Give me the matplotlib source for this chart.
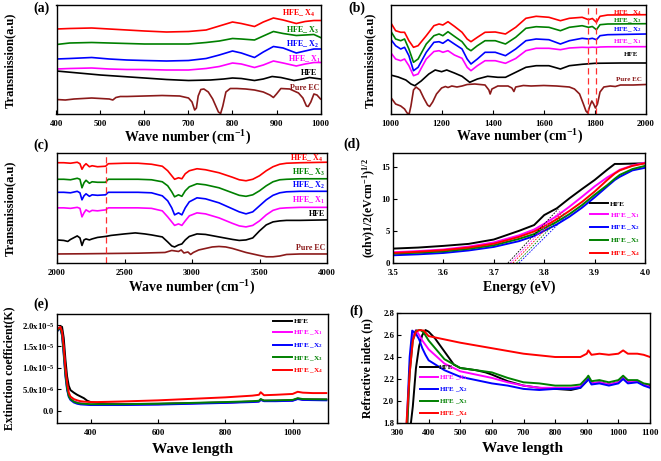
import matplotlib
matplotlib.use("Agg")
import matplotlib.pyplot as plt

plt.rcParams['font.family'] = ['Liberation Serif', 'DejaVu Serif']
plt.rcParams['font.weight'] = 'bold'
plt.rcParams['mathtext.fontset'] = 'custom'
plt.rcParams['mathtext.rm'] = 'Liberation Serif:bold'
plt.rcParams['mathtext.bf'] = 'Liberation Serif:bold'
plt.rcParams['mathtext.it'] = 'Liberation Serif:italic:bold'
plt.rcParams['axes.linewidth'] = 1.0

# ---------------- colours / names ----------------
names = ["HFE", "HFE_X1", "HFE_X2", "HFE_X3", "HFE_X4", "Pure EC"]
colors = ["black", "#ff00ff", "#0000ff", "#008000", "#ff0000", "#8b1a1a"]

# ---------------- panel (a) FTIR 400-1000 (arbitrary offsets) ----------------
a_ec_x = [400, 420, 440, 460, 480, 500, 520, 528, 535, 545, 560, 600, 640, 680, 700, 708, 714, 718, 722, 728,
          735, 745, 755, 762, 768, 773, 778, 785, 795, 810, 830, 850, 870, 885, 893, 900, 910, 930, 950, 960,
          968, 972, 978, 985, 992, 1000]
a_ec_y = [14.5, 14, 15, 15.5, 16, 15.5, 15, 14, 16.5, 17.5, 17.5, 18, 18.5, 18, 16, 12, 4, 6, 18, 24.5,
          25, 22, 15, 8, 2, 0.5, 8, 22, 25.5, 25.5, 25, 24, 22, 19, 16.5, 20, 25.5, 25, 21, 16,
          8, 7.5, 12, 20, 19, 15]
a_hfe_x = [400, 450, 500, 550, 600, 650, 700, 750, 780, 800, 820, 850, 870, 890, 910, 940, 960, 975, 1000]
a_hfe_y = [43, 41, 39, 37.5, 36, 34.5, 33.5, 34, 35, 36, 35.5, 33.5, 35, 37.5, 36.5, 33.5, 35, 36.5, 35]
a_s_x = [400, 430, 480, 520, 560, 600, 650, 700, 740, 770, 800, 820, 850, 870, 893, 915, 945, 965, 985, 1000]
a_x1_y = [45, 45.5, 46, 45, 44.5, 44.5, 44, 44, 45.5, 47.5, 51, 50, 46.5, 49, 53, 51, 48, 50, 51.5, 51.5]
a_x2_y = [55, 55.5, 56.5, 55, 54, 53.5, 53, 53.5, 55.5, 59, 63, 61, 56.5, 62, 67.5, 66, 61, 63, 65, 65]
a_x3_y = [69.5, 71, 71.5, 71, 70.5, 70, 70, 70, 71.5, 73, 75.5, 75, 74, 78, 82.5, 80.5, 78.5, 79, 79.5, 76.5]
a_x4_y = [85, 85.5, 86, 85, 84, 83, 82, 82.5, 84, 88, 92, 90.5, 87.5, 92, 96, 94, 90.5, 92.5, 93.5, 93.5]

# ---------------- panel (b) FTIR 1000-2000 ----------------
b_ec_x = [1000, 1020, 1040, 1055, 1065, 1073, 1080, 1090, 1100, 1115, 1130, 1145, 1153, 1165, 1180, 1200, 1215,
          1225, 1240, 1260, 1280, 1300, 1330, 1370, 1385, 1390, 1397, 1420, 1460, 1475, 1483, 1490, 1520, 1550,
          1600, 1650, 1700, 1720, 1740, 1755, 1765, 1772, 1780, 1788, 1795, 1802, 1810, 1820, 1835, 1860, 1880,
          1900, 1950, 2000]
b_ec_y = [17, 10, 8, 5, 1, 0, 8, 24, 27, 24, 16, 9, 7.5, 12, 20, 26, 27.5,
          26.5, 28, 27, 28, 29.5, 30, 29, 24, 20, 25, 28, 28, 26, 22.5, 27, 28.5, 28,
          28.5, 28, 27, 25, 20, 10, 3, 1, 8, 13, 10, 6, 10, 22, 27, 28, 27.5,
          29, 29, 29.5]
b_hfe_x = [1000, 1030, 1060, 1080, 1095, 1120, 1150, 1175, 1200, 1220, 1250, 1280, 1310, 1340, 1380, 1420, 1450,
           1490, 1530, 1570, 1620, 1665, 1700, 1750, 1800, 1900, 2000]
b_hfe_y = [39, 37, 34, 30, 28.3, 33, 40, 44, 42.3, 44, 41, 37.7, 31.7, 35, 37.7, 36.7, 36.7,
           41.7, 46.7, 48.3, 48.3, 45, 48.3, 49.7, 50.7, 51, 51]
b_s_x = [1000, 1020, 1040, 1055, 1072, 1090, 1108, 1140, 1170, 1190, 1205, 1225, 1250, 1280, 1300, 1315, 1340,
         1370, 1410, 1450, 1490, 1530, 1570, 1620, 1665, 1700, 1750, 1775, 1790, 1806, 1820, 1850, 2000]
b_x1_y = [61.7, 55, 53.3, 55, 48.3, 38.3, 40, 55, 62.5, 63.3, 61.7, 63.3, 59, 55.7, 46.7, 43.3, 48.3,
          53.3, 53.3, 50.7, 55.5, 63.3, 65.7, 65.7, 64.3, 66, 66.7, 66.5, 66.8, 66.6, 67, 67.2, 67.3]
b_x2_y = [75, 68.3, 65, 66.7, 58.3, 43.3, 46.7, 61.7, 71.7, 72.3, 70.7, 74.3, 70, 65, 55, 50, 55,
          61.7, 61.7, 58.3, 65, 73.3, 75, 74.3, 70, 73.3, 75.7, 75, 75.7, 74.3, 78.3, 79.3, 80]
b_x3_y = [83.3, 75, 73.3, 75, 65, 51.7, 55, 70, 78.3, 80, 78.3, 82.3, 77.7, 72.3, 65.7, 63.3, 68.3,
          73.3, 73.3, 70, 76.7, 85.7, 87.3, 86.7, 83.3, 86.7, 88.3, 86.7, 87.5, 84.3, 89.3, 90, 90.3]
b_x4_y = [91.7, 83.3, 81.7, 81.7, 73.3, 66.7, 68.3, 78.3, 88.3, 90, 89, 92.3, 87.7, 81.7, 75, 72.3, 76.7,
          81.7, 82, 80, 86.7, 95.7, 97.7, 96.7, 93.3, 95.7, 96.7, 94.3, 95.5, 91.7, 97.7, 99, 99.3]
b_dash_x = [1773, 1806]

# ---------------- panel (c) FTIR 2000-4000 ----------------
c_s_x = [2000, 2050, 2100, 2150, 2170, 2185, 2200, 2215, 2240, 2260, 2300, 2360, 2380, 2500, 2600, 2700, 2780,
         2820, 2850, 2871, 2900, 2925, 2950, 2980, 3037, 3100, 3200, 3300, 3350, 3400, 3450, 3500, 3550, 3600,
         3650, 3700, 3800, 4000]
c_x4_y = [92, 92, 91.5, 92.5, 91, 85.5, 89, 91, 88, 89, 88, 88.5, 91, 91.5, 91.5, 90.5, 88.5,
          84, 79, 75.5, 77, 76, 81, 84, 86, 85, 82, 77.5, 75, 74, 75.5, 79, 84, 88,
          90.5, 91.5, 92, 92.5]
c_x3_y = [75.5, 75.5, 75, 76.5, 75.5, 67, 72, 74.5, 71.5, 73, 72.5, 72.5, 75.5, 75.5, 75.5, 75, 73,
          69, 63, 58, 60, 58.5, 64, 68, 71, 70, 67, 62, 59.5, 58.5, 60, 64, 69, 73,
          75, 75.5, 76, 76]
c_x2_y = [62.5, 62.5, 62, 63.5, 62, 55, 59, 61, 58.5, 60, 59.5, 60, 62.5, 62.5, 62.5, 62, 59,
          54, 47, 40, 42, 40, 47, 53, 57, 56, 52, 46, 43, 41, 43, 49, 55, 59.5,
          62, 63, 63.5, 63.5]
c_x1_y = [47, 47, 46.5, 47.5, 46.5, 38, 42, 45, 43, 44.5, 44, 45, 47, 47, 47, 46.5, 44,
          38, 33, 29.5, 31, 29.5, 34, 39, 42, 41, 37, 31.5, 29, 28, 29.5, 34, 40, 44.5,
          46.5, 47, 47.5, 47.5]
c_hfe_x = [2000, 2050, 2080, 2100, 2150, 2170, 2185, 2200, 2215, 2240, 2260, 2300, 2360, 2400, 2500, 2580, 2650,
           2700, 2780, 2820, 2850, 2871, 2900, 2925, 2950, 2980, 3037, 3100, 3200, 3300, 3350, 3400, 3450, 3500,
           3550, 3600, 3650, 3700, 3800, 4000]
c_hfe_y = [15, 14.5, 13.5, 15.5, 19, 17, 9.5, 15, 16, 15, 16, 17.5, 18.5, 19.5, 21, 22, 21,
           20, 18, 13, 9, 8, 10, 11, 15, 18.5, 21, 20.5, 18, 15.5, 14.5, 15, 17, 24,
           30, 33, 34, 34.5, 34.5, 35]
c_ec_x = [2000, 2200, 2400, 2600, 2800, 2850, 2900, 2920, 2940, 2970, 2990, 3010, 3050, 3100, 3150, 3200, 3250,
          3300, 3400, 3500, 3550, 3600, 3650, 3700, 3800, 4000]
c_ec_y = [1, 1.2, 1.5, 1.8, 2.5, 4.5, 3.5, 5, 2, 3, 0.5, 2.5, 5, 6.5, 8, 8.5, 8,
          6.5, 2.5, -0.5, -1.8, -1.8, -1, 0.5, 1, 1]
c_dash_x = 2362

# ---------------- panel (d) Tauc plot ----------------
d_x = [3.50, 3.55, 3.60, 3.65, 3.70, 3.75, 3.78, 3.80, 3.825, 3.85, 3.875, 3.90, 3.925, 3.94, 3.95, 3.975, 4.00]
d_hfe = [2.24, 2.4, 2.66, 2.97, 3.65, 5.0, 5.9, 7.45, 8.5, 10.05, 11.5, 12.9, 14.5, 15.4, 15.4, 15.45, 15.5]
d_x1 = [1.67, 1.85, 2.1, 2.55, 3.2, 4.3, 5.2, 6.1, 7.3, 8.75, 10.3, 11.9, 13.3, 14.0, 14.5, 15.15, 15.6]
d_x2 = [1.2, 1.35, 1.56, 1.95, 2.5, 3.4, 4.2, 5.0, 6.0, 7.2, 8.6, 10.2, 11.9, 12.9, 13.4, 14.4, 14.8]
d_x3 = [1.46, 1.6, 1.8, 2.2, 2.76, 3.75, 4.5, 5.4, 6.4, 7.6, 9.0, 10.6, 12.1, 13.1, 13.7, 14.6, 15.1]
d_x4 = [1.56, 1.75, 2.0, 2.4, 3.0, 4.06, 4.9, 5.7, 6.8, 8.1, 9.5, 11.1, 12.9, 13.9, 14.4, 15.1, 15.5]
d_tan_x0 = [3.728, 3.733, 3.750, 3.745, 3.738]
d_tan_x1 = [3.828, 3.832, 3.845, 3.840, 3.836]
d_tan_y1 = [8.4, 8.1, 7.4, 7.7, 7.9]

# ---------------- panel (e) extinction coefficient (x1e-6) ----------------
e_x = [300, 305, 310, 315, 320, 325, 330, 335, 340, 350, 360, 370, 380, 390, 400, 420, 450, 500, 600, 700, 800,
       880, 900, 905, 915, 950, 1000, 1015, 1030, 1060, 1100]
e_hfe = [18.5, 19, 19.3, 19.6, 17, 12, 8, 5.8, 4.8, 4.2, 3.7, 3.3, 2.9, 2.3, 2.0, 1.8, 1.6, 1.55, 1.6, 1.75, 1.9,
         2.1, 2.2, 2.6, 2.3, 2.3, 2.4, 2.8, 2.6, 2.6, 2.6]
e_x1 = [18.8, 19.1, 19.3, 18, 14, 9, 5.5, 3.6, 2.8, 2.2, 1.9, 1.7, 1.6, 1.5, 1.4, 1.4, 1.4, 1.45, 1.5, 1.7, 1.9,
        2.1, 2.2, 2.6, 2.3, 2.3, 2.4, 2.8, 2.6, 2.55, 2.5]
e_x2 = [18.6, 19.0, 19.2, 17.5, 13, 8, 4.8, 3.2, 2.5, 1.9, 1.6, 1.45, 1.4, 1.35, 1.3, 1.3, 1.3, 1.3, 1.4, 1.6, 1.8,
        2.0, 2.1, 2.5, 2.2, 2.2, 2.3, 2.7, 2.5, 2.45, 2.4]
e_x3 = [18.7, 19.1, 19.3, 17.8, 13.5, 8.5, 5.2, 3.4, 2.7, 2.1, 1.8, 1.65, 1.6, 1.55, 1.5, 1.5, 1.5, 1.5, 1.6, 1.8, 2.0,
        2.2, 2.3, 2.7, 2.35, 2.4, 2.5, 2.9, 2.7, 2.65, 2.6]
e_x4 = [18.9, 19.3, 19.6, 18.5, 15, 10, 6.5, 4.2, 3.3, 2.7, 2.4, 2.2, 2.1, 2.05, 2.0, 2.0, 2.05, 2.15, 2.4, 2.75, 3.1,
        3.5, 3.7, 4.3, 3.6, 3.7, 3.9, 4.4, 4.2, 4.1, 4.1]

# ---------------- panel (f) refractive index ----------------
f_hfe_x = [344, 350, 360, 370, 380, 390, 400, 420, 450, 480, 500, 550, 580, 600, 650, 700, 750, 800, 850, 880,
           900, 905, 915, 940, 970, 1000, 1015, 1030, 1060, 1080, 1100]
f_hfe_y = [1.80, 1.95, 2.30, 2.50, 2.60, 2.645, 2.63, 2.57, 2.45, 2.33, 2.30, 2.28, 2.26, 2.24, 2.18, 2.14, 2.12,
           2.11, 2.10, 2.12, 2.18, 2.21, 2.16, 2.17, 2.15, 2.17, 2.21, 2.18, 2.18, 2.15, 2.14]
f_s_x = [331, 340, 348, 360, 370, 380, 390, 400, 450, 500, 550, 600, 650, 700, 750, 800, 850, 880,
         900, 905, 915, 940, 970, 1000, 1015, 1030, 1060, 1080, 1100]
f_x2_y = [1.80, 2.40, 2.64, 2.61, 2.56, 2.48, 2.42, 2.37, 2.28, 2.22, 2.19, 2.16, 2.14, 2.11, 2.10, 2.11, 2.11, 2.12,
          2.18, 2.20, 2.15, 2.16, 2.14, 2.16, 2.20, 2.16, 2.17, 2.14, 2.12]
f_x1_x = [333, 340, 350, 360, 370, 380, 400, 450, 500, 550, 600, 650, 700, 750, 800, 850, 880,
          900, 905, 915, 940, 970, 1000, 1015, 1030, 1060, 1080, 1100]
f_x1_y = [1.80, 2.30, 2.60, 2.645, 2.60, 2.55, 2.47, 2.34, 2.27, 2.24, 2.21, 2.17, 2.14, 2.12, 2.12, 2.12, 2.13,
          2.19, 2.21, 2.16, 2.17, 2.15, 2.17, 2.21, 2.17, 2.18, 2.15, 2.13]
f_x3_x = [333, 340, 350, 360, 375, 385, 400, 450, 500, 550, 600, 650, 700, 750, 800, 850, 880,
          900, 905, 915, 940, 970, 1000, 1015, 1030, 1060, 1080, 1100]
f_x3_y = [1.80, 2.25, 2.55, 2.64, 2.645, 2.62, 2.55, 2.38, 2.30, 2.28, 2.26, 2.21, 2.17, 2.16, 2.14, 2.14, 2.15,
          2.21, 2.23, 2.18, 2.19, 2.17, 2.19, 2.23, 2.19, 2.19, 2.16, 2.15]
f_x4_x = [330, 340, 350, 360, 370, 385, 400, 450, 500, 600, 700, 800, 880, 900, 905, 915, 940, 970, 1000, 1015,
          1030, 1060, 1080, 1100]
f_x4_y = [1.80, 2.25, 2.55, 2.63, 2.645, 2.64, 2.59, 2.56, 2.53, 2.48, 2.43, 2.40, 2.40, 2.43, 2.46, 2.42, 2.43,
          2.42, 2.43, 2.46, 2.43, 2.43, 2.42, 2.40]

# ---------------- figure ----------------
W, H = 661, 461
fig = plt.figure(figsize=(W / 100, H / 100), dpi=100)


def add_ax(l, r, t, b):
    return fig.add_axes([l / W, 1 - b / H, (r - l) / W, (b - t) / H])


def ftxt(x, y, s, **kw):
    fig.text(x / W, 1 - y / H, s, **kw)


LW = 1.2
tick_kw = dict(direction='in', labelsize=6.3, width=0.8, length=3)


def style_ticks(ax):
    ax.tick_params(axis='x', pad=4, **tick_kw)
    ax.tick_params(axis='y', pad=2, **tick_kw)


# (a)
ax = add_ax(56.5, 320.5, 5, 114)
ax.plot(a_ec_x, a_ec_y, color=colors[5], lw=LW)
ax.plot(a_hfe_x, a_hfe_y, color=colors[0], lw=LW)
ax.plot(a_s_x, a_x1_y, color=colors[1], lw=LW)
ax.plot(a_s_x, a_x2_y, color=colors[2], lw=LW)
ax.plot(a_s_x, a_x3_y, color=colors[3], lw=LW)
ax.plot(a_s_x, a_x4_y, color=colors[4], lw=LW)
ax.set_xlim(400, 1000)
ax.set_ylim(0, 109)
ax.set_xticks([400, 500, 600, 700, 800, 900, 1000])
ax.set_yticks([])
style_ticks(ax)
fs = 5.8
ftxt(315, 13, r"HFE_ X$_4$", color=colors[4], fontsize=fs, ha='right', va='center')
ftxt(319, 30, r"HFE_ X$_3$", color=colors[3], fontsize=fs, ha='right', va='center')
ftxt(319, 44, r"HFE_ X$_2$", color=colors[2], fontsize=fs, ha='right', va='center')
ftxt(321, 59, r"HFE_ X$_1$", color=colors[1], fontsize=fs, ha='right', va='center')
ftxt(317, 73, "HFE", color=colors[0], fontsize=fs, ha='right', va='center')
ftxt(319, 88, "Pure EC", color=colors[5], fontsize=fs, ha='right', va='center')
ftxt(41, 8, "(a)", fontsize=10, ha='center', va='center')
ftxt(10, 60, "Transmission(a.u)", fontsize=9, rotation=90, ha='center', va='center')
ftxt(188, 138, r"Wave number (cm$^{-1}$)", fontsize=10, ha='center', va='center')

# (b)
ax = add_ax(390.5, 646, 5, 114)
ax.plot(b_ec_x, b_ec_y, color=colors[5], lw=LW)
ax.plot(b_hfe_x, b_hfe_y, color=colors[0], lw=LW)
ax.plot(b_s_x, b_x1_y, color=colors[1], lw=LW)
ax.plot(b_s_x, b_x2_y, color=colors[2], lw=LW)
ax.plot(b_s_x, b_x3_y, color=colors[3], lw=LW)
ax.plot(b_s_x, b_x4_y, color=colors[4], lw=LW)
for xd in b_dash_x:
    ax.axvline(xd, color='#ff3030', ls=(0, (5, 3)), lw=0.9)
ax.set_xlim(1000, 2000)
ax.set_ylim(0, 109)
ax.set_xticks([1000, 1200, 1400, 1600, 1800, 2000])
ax.set_yticks([])
style_ticks(ax)
fs = 5.0
ftxt(642, 13, r"HFE_ X$_4$", color=colors[4], fontsize=fs, ha='right', va='center')
ftxt(642, 21, r"HFE_ X$_3$", color=colors[3], fontsize=fs, ha='right', va='center')
ftxt(642, 30, r"HFE_ X$_2$", color=colors[2], fontsize=fs, ha='right', va='center')
ftxt(642, 42, r"HFE_ X$_1$", color=colors[1], fontsize=fs, ha='right', va='center')
ftxt(638, 55, "HFE", color=colors[0], fontsize=fs, ha='right', va='center')
ftxt(642, 79, "Pure EC", color=colors[5], fontsize=fs, ha='right', va='center')
ftxt(357, 8, "(b)", fontsize=10, ha='center', va='center')
ftxt(370, 60, "Transmission(a.u)", fontsize=9, rotation=90, ha='center', va='center')
ftxt(520, 137, r"Wave number (cm$^{-1}$)", fontsize=10, ha='center', va='center')

# (c)
ax = add_ax(57, 327, 153, 263)
ax.plot(c_ec_x, c_ec_y, color=colors[5], lw=LW)
ax.plot(c_hfe_x, c_hfe_y, color=colors[0], lw=LW)
ax.plot(c_s_x, c_x1_y, color=colors[1], lw=LW)
ax.plot(c_s_x, c_x2_y, color=colors[2], lw=LW)
ax.plot(c_s_x, c_x3_y, color=colors[3], lw=LW)
ax.plot(c_s_x, c_x4_y, color=colors[4], lw=LW)
ax.axvline(c_dash_x, color='#ff3030', ls=(0, (5, 3)), lw=0.9)
ax.set_xlim(2000, 4000)
ax.set_ylim(-8, 101.7)
ax.set_xticks([2000, 2500, 3000, 3500, 4000])
ax.set_yticks([])
style_ticks(ax)
fs = 5.8
ftxt(323, 158, r"HFE_ X$_4$", color=colors[4], fontsize=fs, ha='right', va='center')
ftxt(325, 172, r"HFE_ X$_3$", color=colors[3], fontsize=fs, ha='right', va='center')
ftxt(325, 185, r"HFE_ X$_2$", color=colors[2], fontsize=fs, ha='right', va='center')
ftxt(325, 200, r"HFE_ X$_1$", color=colors[1], fontsize=fs, ha='right', va='center')
ftxt(325, 214, "HFE", color=colors[0], fontsize=fs, ha='right', va='center')
ftxt(325, 248, "Pure EC", color=colors[5], fontsize=fs, ha='right', va='center')
ftxt(41, 145, "(c)", fontsize=10, ha='center', va='center')
ftxt(10, 208, "Transmission(a.u)", fontsize=9, rotation=90, ha='center', va='center')
ftxt(192, 288, r"Wave number (cm$^{-1}$)", fontsize=10, ha='center', va='center')

# (d)
ax = add_ax(393, 645, 153, 263)
labels_leg = ["HFE", r"HFE _X$_1$", r"HFE _X$_2$", r"HFE _X$_3$", r"HFE _X$_4$"]
d_series = [d_hfe, d_x1, d_x2, d_x3, d_x4]
for i, ys in enumerate(d_series):
    ax.plot(d_x, ys, color=colors[i], lw=1.4, label=labels_leg[i])
for i in range(5):
    ax.plot([d_tan_x0[i], d_tan_x1[i]], [0, d_tan_y1[i]], color=colors[i], lw=0.6, ls=(0, (2, 1.5)))
ax.set_xlim(3.5, 4.0)
ax.set_ylim(0, 17.1)
ax.set_xticks([3.5, 3.6, 3.7, 3.8, 3.9, 4.0])
ax.set_yticks([0, 5, 10, 15])
style_ticks(ax)
leg = ax.legend(loc='lower right', fontsize=5.2, frameon=False, handlelength=2.6, labelspacing=0.55,
                borderaxespad=0.3, handletextpad=0.2)
for t, c in zip(leg.get_texts(), colors):
    t.set_color(c)
ftxt(352, 144, "(d)", fontsize=10, ha='center', va='center')
ftxt(369, 208, r"(αhv)1/2(eVcm$^{-1}$)$^{1/2}$", fontsize=8.5, rotation=90, ha='center', va='center')
ftxt(519, 287, "Energy (eV)", fontsize=10, ha='center', va='center')

# (e)
ax = add_ax(57, 328, 314, 423)
e_series = [e_hfe, e_x1, e_x2, e_x3, e_x4]
for i, ys in enumerate(e_series):
    ax.plot(e_x, [v * 1e-6 for v in ys], color=colors[i], lw=1.4, label=labels_leg[i])
ax.set_xlim(300, 1105)
ax.set_ylim(-2.9e-6, 2.26e-5)
ax.set_xticks([400, 600, 800, 1000])
e_yt = [0, 5e-6, 1e-5, 1.5e-5, 2e-5]
e_yl = ["0.0", r"5.0x10$^{-6}$", r"1.0x10$^{-5}$", r"1.5x10$^{-5}$", r"2.0x10$^{-5}$"]
ax.set_yticks(e_yt)
ax.set_yticklabels(e_yl)
style_ticks(ax)
leg = ax.legend(loc='upper right', fontsize=5.2, frameon=False, handlelength=2.6, labelspacing=0.55,
                borderaxespad=0.2, handletextpad=0.2)
for t, c in zip(leg.get_texts(), colors):
    t.set_color(c)
ftxt(41, 304, "(e)", fontsize=10, ha='center', va='center')
ftxt(9, 368, "Extinction coefficient(K)", fontsize=8.5, rotation=90, ha='center', va='center')
ftxt(192, 449, "Wave length", fontsize=11, ha='center', va='center')

# (f)
ax = add_ax(397, 650, 313, 423)
ax.plot(f_hfe_x, f_hfe_y, color=colors[0], lw=1.4, label=labels_leg[0])
ax.plot(f_x1_x, f_x1_y, color=colors[1], lw=1.4, label=labels_leg[1])
ax.plot(f_s_x, f_x2_y, color=colors[2], lw=1.4, label=labels_leg[2])
ax.plot(f_x3_x, f_x3_y, color=colors[3], lw=1.4, label=labels_leg[3])
ax.plot(f_x4_x, f_x4_y, color=colors[4], lw=1.4, label=labels_leg[4])
ax.set_xlim(300, 1100)
ax.set_ylim(1.8, 2.8)
ax.set_xticks([300, 400, 500, 600, 700, 800, 900, 1000, 1100])
ax.set_yticks([1.8, 2.0, 2.2, 2.4, 2.6, 2.8])
style_ticks(ax)
leg = ax.legend(loc='lower left', bbox_to_anchor=(0.07, 0.0), fontsize=5.0, frameon=False, handlelength=2.6,
                labelspacing=0.45, borderaxespad=0.3, handletextpad=0.2)
for t, c in zip(leg.get_texts(), colors):
    t.set_color(c)
ftxt(356, 311, "(f)", fontsize=10, ha='center', va='center')
ftxt(367, 368, "Refractive index (n)", fontsize=8.5, rotation=90, ha='center', va='center')
ftxt(523, 448, "Wave length", fontsize=11, ha='center', va='center')

fig.savefig("out.png", dpi=100)
